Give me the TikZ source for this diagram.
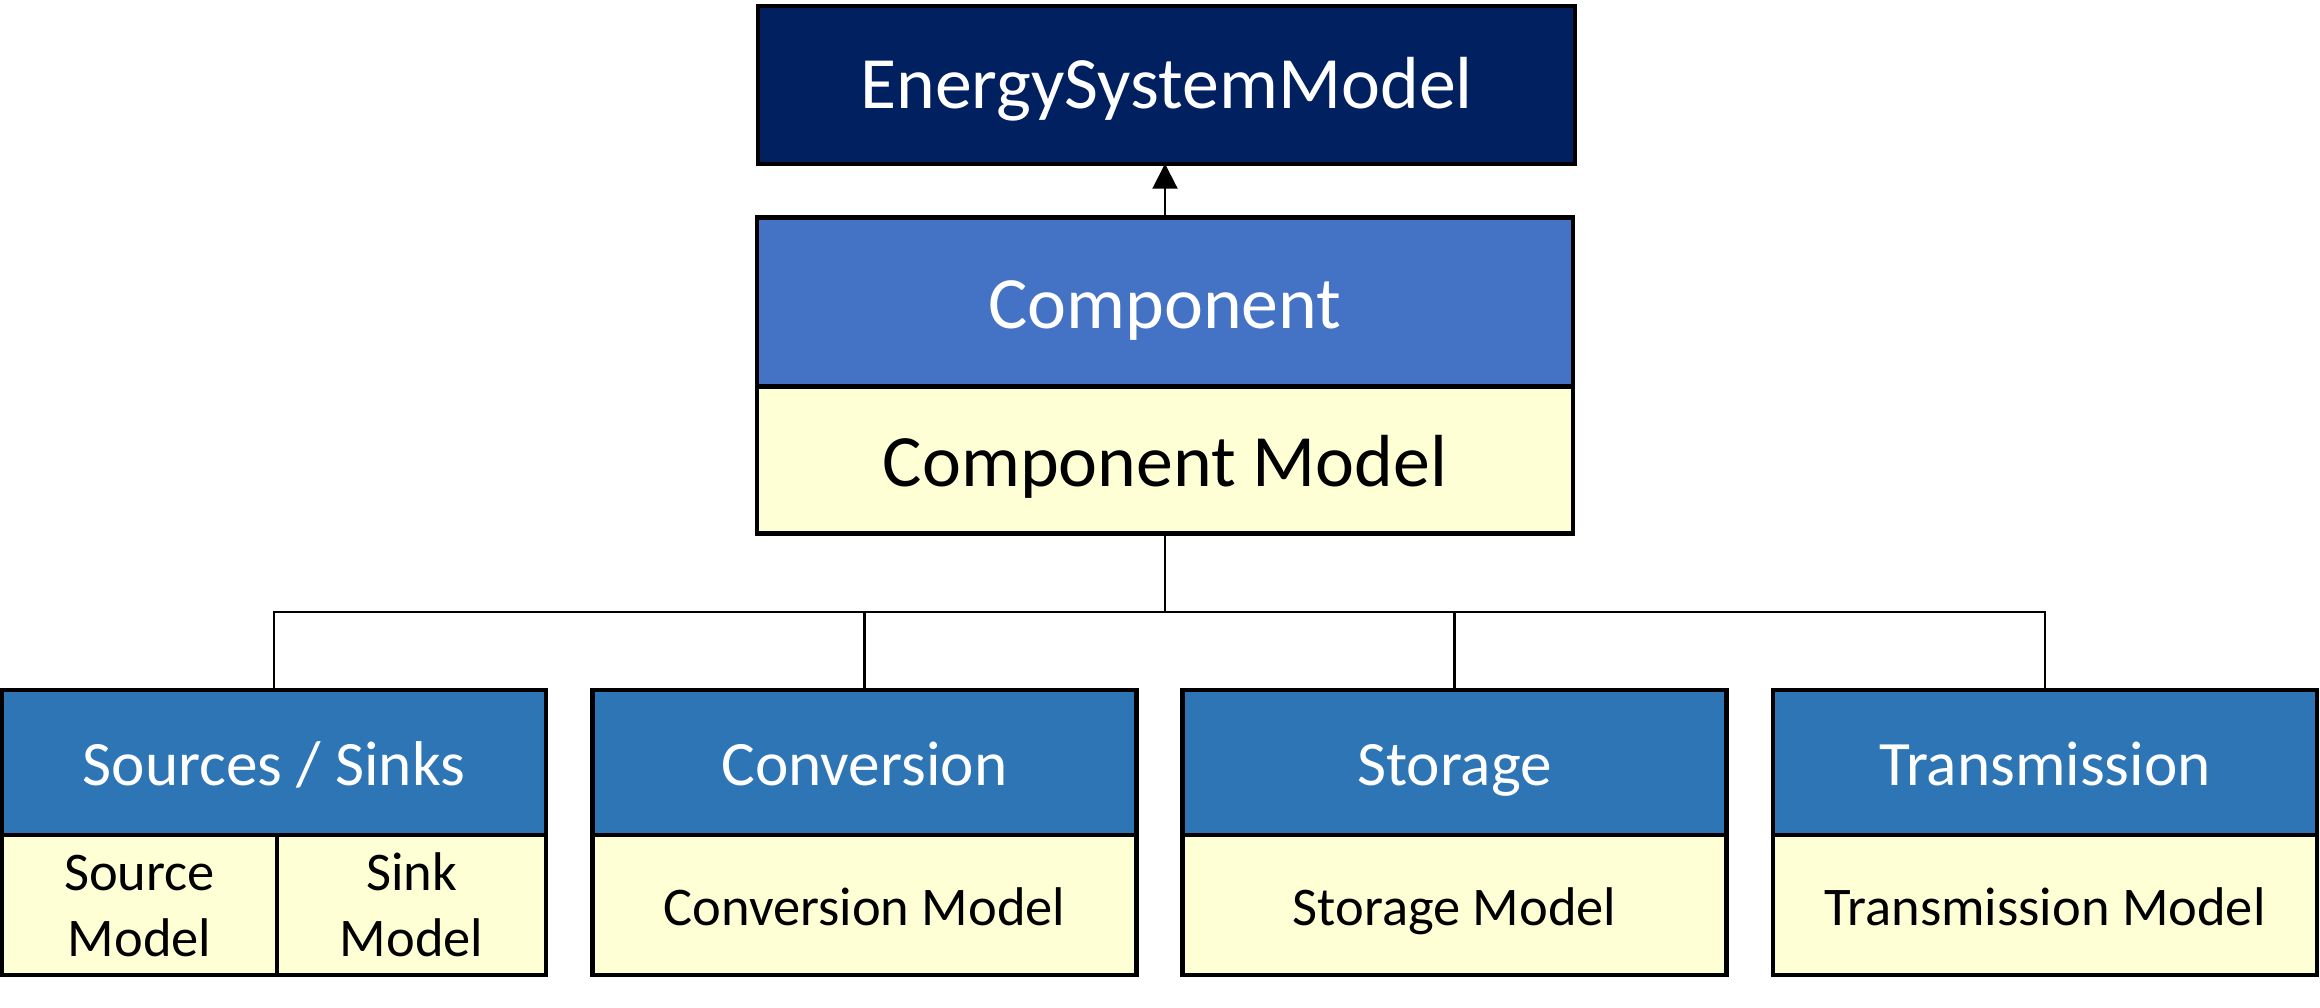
\documentclass[tikz,border=0pt]{standalone}
\usepackage{fontspec}
\setmainfont{Carlito}
\usepackage{xcolor}
\usetikzlibrary{arrows.meta,positioning}

\definecolor{esmnavy}{HTML}{002060}
\definecolor{compblue}{HTML}{4472C4}
\definecolor{clsblue}{HTML}{2E75B6}
\definecolor{modelyellow}{HTML}{FFFFD5}

\begin{document}
\begin{tikzpicture}[
    box/.style={draw, line width=1.25pt, outer sep=0pt, inner sep=0pt, rectangle},
    topbox/.style={box, fill=esmnavy, text=white, minimum width=8.17cm, minimum height=1.575cm,
        font=\fontsize{21}{25}\selectfont, text height=13.5pt, text depth=0pt},
    compbox/.style={box, minimum width=8.165cm, font=\fontsize{21}{25}\selectfont, text height=15pt, text depth=0pt},
    headbox/.style={box, fill=clsblue, text=white, minimum width=5.44cm, minimum height=1.45cm,
        font=\fontsize{18}{22}\selectfont, text height=13pt, text depth=0pt},
    modelbox/.style={box, fill=modelyellow, minimum height=1.40cm, font=\fontsize{15.5}{19}\selectfont},
    link/.style={line width=0.6pt}
]
    \useasboundingbox (0,0) rectangle (23.2,10.07);

    % top level
    \node[topbox] (esm) at (11.665,9.22) {EnergySystemModel};

    % component
    \node[compbox, fill=compblue, text=white, minimum height=1.69cm] (comp) at (11.65,7.05) {Component};
    \node[compbox, fill=modelyellow, minimum height=1.47cm, below=0pt of comp] (compmodel) {Component Model};
    \draw[link, -{Triangle[length=0.25cm,width=0.25cm]}] (comp.north) -- (comp.north |- esm.south);

    % component classes
    \node[headbox] (src) at (2.74,2.445) {Sources / Sinks};
    \node[headbox] (conv) at (8.645,2.445) {Conversion};
    \node[headbox] (stor) at (14.545,2.445) {Storage};
    \node[headbox] (trans) at (20.45,2.445) {Transmission};

    % component models
    \node[modelbox, minimum width=2.75cm, align=center, text height=29.5pt, text depth=0pt,
        below right=0pt of src.south west] (srcmodel) {Source\\Model};
    \node[modelbox, minimum width=2.69cm, align=center, text height=29.5pt, text depth=0pt,
        right=0pt of srcmodel] (sinkmodel) {Sink\\Model};
    \node[modelbox, minimum width=5.44cm, text height=11.5pt, text depth=0pt, below=0pt of conv] (convmodel) {Conversion Model};
    \node[modelbox, minimum width=5.44cm, text height=11.5pt, text depth=0pt, below=0pt of stor] (stormodel) {Storage Model};
    \node[modelbox, minimum width=5.44cm, text height=11.5pt, text depth=0pt, below=0pt of trans] (transmodel) {Transmission Model};

    % tree connectors
    \coordinate (bus) at (11.65,3.954);
    \draw[link] (compmodel.south) -- (bus);
    \draw[link] (src.north) |- (bus) -| (trans.north);
    \draw[link] (conv.north) -- (conv.north |- bus);
    \draw[link] (stor.north) -- (stor.north |- bus);
\end{tikzpicture}
\end{document}
